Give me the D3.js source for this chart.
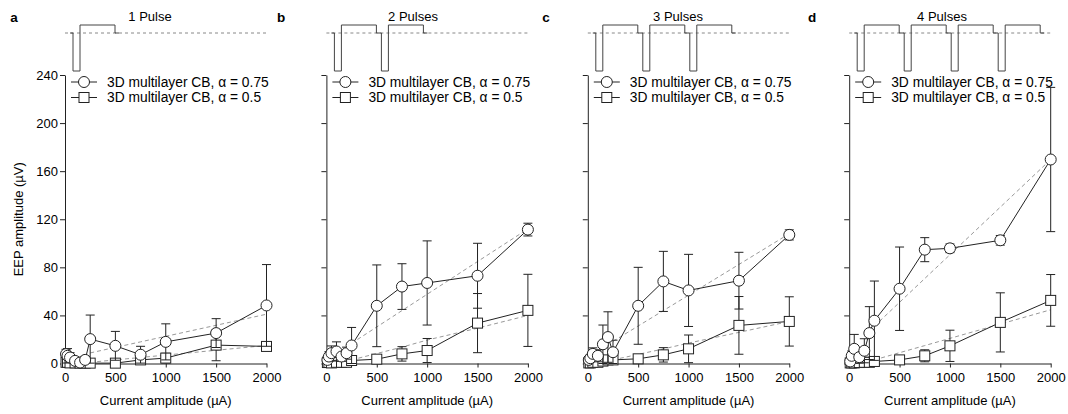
<!DOCTYPE html>
<html>
<head>
<meta charset="utf-8">
<script src="https://cdn.jsdelivr.net/npm/d3@7"></script>
<style>
  body { margin: 0; background: #fff; }
  svg { display: block; font-family: "Liberation Sans", Arial, sans-serif; }
</style>
</head>
<body>
<svg id="chart" width="1068" height="414"></svg>
<script>
// Stimulation currents (µA) shared by every panel
const currents = [10, 25, 50, 100, 150, 200, 250, 500, 750, 1000, 1500, 2000];
// Currents at which the model trend (dashed) is evaluated
const trendCurrents = [250, 500, 750, 1000, 1500, 2000];

const panelLetters = ["a", "b", "c", "d"];
const panelTitles = ["1 Pulse", "2 Pulses", "3 Pulses", "4 Pulses"];
const pulseCounts = [1, 2, 3, 4];
const xTicks = [0, 500, 1000, 1500, 2000];
const yTicks = [0, 40, 80, 120, 160, 200, 240];
const legendLabels = ["3D multilayer CB, \u03b1 = 0.75", "3D multilayer CB, \u03b1 = 0.5"];

// EEP amplitude (µV), alpha = 0.75 (circles)
const a75 = [7.8, 6.4, 5.0, 2.2, 0.8, 3.0, 20.3, 14.7, 7.3, 18.0, 25.3, 48.3];
const b75 = [3.0, 5.8, 8.6, 10.0, 5.8, 8.6, 15.0, 48.0, 64.0, 67.0, 73.0, 111.4];
const c75 = [3.0, 4.4, 8.0, 6.4, 16.0, 22.0, 9.4, 48.0, 68.3, 60.8, 68.9, 107.0];
const d75 = [1.7, 6.4, 12.2, 5.3, 10.6, 25.3, 35.6, 62.2, 94.7, 95.8, 102.5, 169.7];
// standard deviation, alpha = 0.75
const a75sd = [4, 6, 4, 3, 2, 3, 20, 12, 7, 15, 12, 34];
const b75sd = [3, 4, 6, 8, 4, 5, 15, 34, 19, 35, 27, 5.3];
const c75sd = [2, 3, 5, 5, 16, 21, 10, 32, 25, 30, 23.6, 4.2];
const d75sd = [2, 4, 12, 5, 10, 22, 33, 34.7, 10, 3.6, 4, 60];

// EEP amplitude (µV), alpha = 0.5 (squares)
const a50 = [1.0, 1.0, 0.5, 0.5, 0.3, 0.3, 0.3, 0.3, 3.0, 4.5, 15.3, 14.2];
const b50 = [0.8, 0.8, 0.5, 1.0, 1.0, 1.0, 2.5, 3.6, 8.0, 10.8, 33.6, 44.2];
const c50 = [0.5, 0.5, 1.0, 1.0, 2.0, 3.0, 3.0, 3.9, 7.2, 12.2, 31.7, 35.0];
const d50 = [0.5, 0.5, 0.5, 0.8, 1.0, 1.0, 1.7, 3.0, 6.4, 14.7, 34.2, 52.5];
// standard deviation, alpha = 0.5
const a50sd = [1, 1, 1, 1, 0.5, 0.5, 0.5, 0.5, 3, 4, 13, 2];
const b50sd = [1, 1, 1, 1, 1, 1, 2, 2, 6, 10, 24.6, 30];
const c50sd = [1, 1, 1, 1, 2, 2, 2, 2, 6, 11.5, 24, 20.5];
const d50sd = [0.5, 0.5, 0.5, 0.5, 1, 1, 1, 1, 5, 13, 24.6, 21.5];

// Model trend (µV)
const a75trend = [8.8, 13.4, 18.0, 22.6, 31.8, 41.0];
const b75trend = [16.8, 30.4, 44.0, 57.6, 84.8, 112.0];
const c75trend = [18.4, 31.2, 44.0, 56.8, 82.4, 108.0];
const d75trend = [31.1, 50.9, 70.7, 90.5, 130.1, 169.7];
const a50trend = [1.0, 3.0, 5.0, 7.0, 11.0, 15.0];
const b50trend = [3.0, 8.3, 13.6, 19.5, 29.4, 40.0];
const c50trend = [3.0, 7.6, 12.1, 17.0, 25.9, 35.0];
const d50trend = [3.0, 9.0, 14.9, 20.9, 32.8, 44.7];

const series75 = [a75, b75, c75, d75];
const series75sd = [a75sd, b75sd, c75sd, d75sd];
const series50 = [a50, b50, c50, d50];
const series50sd = [a50sd, b50sd, c50sd, d50sd];
const trend75 = [a75trend, b75trend, c75trend, d75trend];
const trend50 = [a50trend, b50trend, c50trend, d50trend];

const ink = "#222";
const svg = d3.select("#chart");

// panel geometry
const plotLeft = 65, panelStep = 261.4, plotWidth = 201.5;
const letterX = [14, 281, 546, 812];
const titleX = [150, 413, 678, 942];
const y = d3.scaleLinear().domain([0, 240]).range([363.5, 75]);

function drawSeries(g, x, values, sd, shape) {
  const pts = currents.map((c, i) => ({ c, v: values[i], e: sd[i] }));
  // error bars
  const eb = g.append("g").attr("stroke", ink).attr("stroke-width", 1);
  pts.forEach(p => {
    const top = y(p.v + p.e), bot = y(Math.max(0, p.v - p.e)), cx = x(p.c);
    eb.append("line").attr("x1", cx).attr("x2", cx).attr("y1", top).attr("y2", bot);
    eb.append("line").attr("x1", cx - 4.5).attr("x2", cx + 4.5).attr("y1", top).attr("y2", top);
    eb.append("line").attr("x1", cx - 4.5).attr("x2", cx + 4.5).attr("y1", bot).attr("y2", bot);
  });
  // connecting line
  g.append("path").datum(pts)
    .attr("fill", "none").attr("stroke", ink).attr("stroke-width", 1)
    .attr("d", d3.line().x(p => x(p.c)).y(p => y(p.v)));
  // markers
  const m = g.append("g").attr("fill", "#fff").attr("stroke", ink).attr("stroke-width", 1);
  pts.forEach(p => drawMarker(m, x(p.c), y(p.v), shape));
}

function drawMarker(g, cx, cy, shape) {
  if (shape === "circle") {
    g.append("circle").attr("cx", cx).attr("cy", cy).attr("r", 5.5);
  } else {
    g.append("rect").attr("x", cx - 5).attr("y", cy - 5).attr("width", 10).attr("height", 10);
  }
}

pulseCounts.forEach((n, i) => {
  const x0 = plotLeft + i * panelStep;
  const x = d3.scaleLinear().domain([0, 2000]).range([x0, x0 + plotWidth]);
  const g = svg.append("g");

  // panel letter and title
  g.append("text").attr("x", letterX[i]).attr("y", 22).attr("text-anchor", "middle")
    .attr("font-size", 13.5).attr("font-weight", "bold").attr("fill", "#000")
    .text(panelLetters[i]);
  g.append("text").attr("x", titleX[i]).attr("y", 21)
    .attr("text-anchor", "middle").attr("font-size", 13).attr("fill", "#000")
    .text(panelTitles[i]);

  // stimulus waveform: dashed baseline plus biphasic pulses
  const base = 33, hi = 25, lo = 71;
  g.append("line").attr("x1", x0).attr("x2", x0 + plotWidth).attr("y1", base).attr("y2", base)
    .attr("stroke", "#888").attr("stroke-width", 1).attr("stroke-dasharray", "3,3");
  const wave = d3.path();
  let px = x0 + 8;
  wave.moveTo(px - 3, base);
  for (let k = 0; k < n; k++) {
    wave.lineTo(px, base);
    wave.lineTo(px, lo);
    wave.lineTo(px + 7, lo);
    wave.lineTo(px + 7, hi);
    wave.lineTo(px + 42, hi);
    wave.lineTo(px + 42, base);
    px += 47;
  }
  wave.lineTo(px - 1, base);
  g.append("path").attr("d", wave.toString()).attr("fill", "none")
    .attr("stroke", "#444").attr("stroke-width", 1);

  // axes
  const yAxis = d3.axisLeft(y).tickValues(yTicks).tickSize(5).tickSizeOuter(0).tickPadding(2);
  if (i > 0) yAxis.tickFormat("");
  const ya = g.append("g").attr("transform", `translate(${x0},0)`).call(yAxis);
  const xa = g.append("g").attr("transform", `translate(0,${y(0)})`)
    .call(d3.axisBottom(x).tickValues(xTicks).tickFormat(d3.format("d"))
      .tickSize(4).tickSizeOuter(0).tickPadding(5));
  [ya, xa].forEach(a => {
    a.selectAll("path,line").attr("stroke", ink);
    a.selectAll("text").attr("fill", "#000").attr("font-size", 13)
      .attr("font-family", "Liberation Sans, Arial, sans-serif");
  });

  g.append("text").attr("x", x0 + plotWidth / 2).attr("y", 405)
    .attr("text-anchor", "middle").attr("font-size", 13).attr("fill", "#000")
    .text("Current amplitude (\u00b5A)");
  if (i === 0) {
    g.append("text").attr("transform", `translate(23,${(y(0) + y(240)) / 2}) rotate(-90)`)
      .attr("text-anchor", "middle").attr("font-size", 13).attr("fill", "#000")
      .text("EEP amplitude (\u00b5V)");
  }

  // model trends
  const trendLine = d3.line().x((d, k) => x(trendCurrents[k])).y(d => y(d));
  [trend75[i], trend50[i]].forEach(t => {
    g.append("path").attr("d", trendLine(t)).attr("fill", "none")
      .attr("stroke", "#999").attr("stroke-width", 1).attr("stroke-dasharray", "4,3");
  });

  // measured data
  drawSeries(g.append("g"), x, series50[i], series50sd[i], "square");
  drawSeries(g.append("g"), x, series75[i], series75sd[i], "circle");

  // legend
  const lg = g.append("g").attr("transform", `translate(${x0 + 6},0)`);
  ["circle", "square"].forEach((shape, k) => {
    const ly = 82 + k * 15.5;
    lg.append("line").attr("x1", 0).attr("x2", 26).attr("y1", ly).attr("y2", ly)
      .attr("stroke", ink).attr("stroke-width", 1);
    const mg = lg.append("g").attr("fill", "#fff").attr("stroke", ink).attr("stroke-width", 1);
    drawMarker(mg, 13, ly, shape);
    lg.append("text").attr("x", 36).attr("y", ly).attr("dy", "0.35em")
      .attr("font-size", 13.8).attr("fill", "#000").text(legendLabels[k]);
  });
});
</script>
</body>
</html>
